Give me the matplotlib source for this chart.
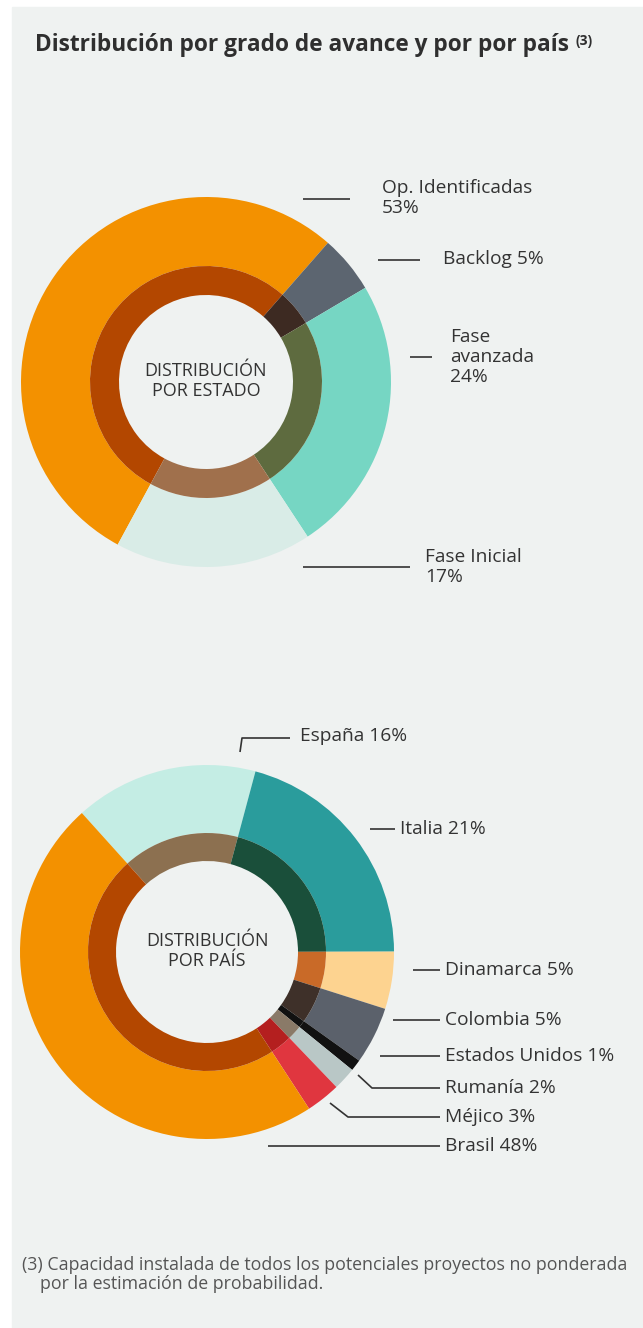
import numpy as np
import matplotlib.pyplot as plt
from matplotlib.patches import Rectangle

W, H = 643, 1328

# distribución por estado
estado = ["Op. Identificadas", "Backlog", "Fase avanzada", "Fase Inicial"]
estado_pct = [53, 5, 24, 17]
estado_col = ["#f39100", "#5c6570", "#76d6c3", "#d9ece7"]
estado_dark = ["#b34700", "#3d2a22", "#5e6b3f", "#a0704c"]

# distribución por país
pais = ["España", "Italia", "Dinamarca", "Colombia", "Estados Unidos",
        "Rumanía", "Méjico", "Brasil"]
pais_pct = [16, 21, 5, 5, 1, 2, 3, 48]
pais_col = ["#c4ede4", "#2a9c9c", "#fdd390", "#5b616b", "#111111",
            "#b9c7c6", "#e0363f", "#f39100"]
pais_dark = ["#8c7050", "#1a4f3a", "#c96a28", "#3e3029", "#111111",
             "#8a7a68", "#b41f1f", "#b34700"]

plt.rcParams['font.family'] = ['Open Sans', 'DejaVu Sans']
TXT = "#333333"
LBL = 13.8

fig = plt.figure(figsize=(W / 100, H / 100), dpi=100)
fig.patch.set_facecolor("white")
ax = fig.add_axes([0, 0, 1, 1])
ax.add_patch(Rectangle((12, 0), W - 12, H - 7, color="#eff2f1", zorder=0))


def donut(vals, outer, inner, cx, cy, R, r1, r0, start):
    c = (cx, H - cy)
    ax.pie(vals, colors=outer, radius=R, center=c, startangle=start,
           counterclock=False, wedgeprops=dict(width=R - r1, linewidth=0))
    ax.pie(vals, colors=inner, radius=r1, center=c, startangle=start,
           counterclock=False, wedgeprops=dict(width=r1 - r0, linewidth=0))


def leader(xs, ys):
    ax.plot(xs, [H - y for y in ys], color=TXT, lw=1.2, solid_capstyle="butt")


def label(x, y, s, **kw):
    ax.text(x, H - y, s, ha="left", va="center", fontsize=LBL, color=TXT,
            linespacing=1.15, **kw)


# top donut
donut(estado_pct, estado_col, estado_dark, 206, 382, 185, 116, 87, 241.5)
ax.text(206, H - 381, "DISTRIBUCIÓN\nPOR ESTADO", ha="center", va="center",
        fontsize=13, color=TXT, linespacing=1.2)

leader([303, 350], [199, 199])
label(382, 198, f"{estado[0]}\n{estado_pct[0]}%")
leader([378, 420], [260, 260])
label(443, 259, f"{estado[1]} {estado_pct[1]}%")
leader([410, 432], [357, 357])
label(450, 357, "Fase\navanzada\n%d%%" % estado_pct[2])
leader([303, 410], [567, 567])
label(425, 567, f"{estado[3]}\n{estado_pct[3]}%")

# bottom donut
donut(pais_pct, pais_col, pais_dark, 207, 952, 187, 119, 91, 132)
ax.text(207, H - 951, "DISTRIBUCIÓN\nPOR PAÍS", ha="center", va="center",
        fontsize=13, color=TXT, linespacing=1.2)

leader([240, 242, 290], [752, 738, 738])
label(300, 736, f"{pais[0]} {pais_pct[0]}%")
leader([370, 395], [829, 829])
label(400, 829, f"{pais[1]} {pais_pct[1]}%")

right_y = [970, 1020, 1056, 1088, 1117, 1146]
leader([413, 440], [970, 970])
leader([393, 440], [1020, 1020])
leader([380, 440], [1056, 1056])
leader([358, 372, 440], [1075, 1088, 1088])
leader([330, 348, 440], [1103, 1117, 1117])
leader([268, 440], [1146, 1146])
for name, v, y in zip(pais[2:], pais_pct[2:], right_y):
    label(445, y, f"{name} {v}%")

ax.set_xlim(0, W)
ax.set_ylim(0, H)
ax.set_aspect("equal")
ax.axis("off")

# title with superscript note mark
title = ax.text(35, H - 45, "Distribución por grado de avance y por por país",
                ha="left", va="center", fontsize=16.3, fontweight="bold",
                color="#2f2f2f")
fig.canvas.draw()
bb = title.get_window_extent()
x_end = ax.transData.inverted().transform((bb.x1, bb.y1))[0]
ax.text(x_end + 6, H - 41, "(3)", ha="left", va="center", fontsize=10,
        fontweight="bold", color="#2f2f2f")

# footnote
ax.text(22, H - 1265, "(3) Capacidad instalada de todos los potenciales proyectos no ponderada",
        ha="left", va="center", fontsize=12.8, color="#555555")
ax.text(40, H - 1284, "por la estimación de probabilidad.",
        ha="left", va="center", fontsize=12.8, color="#555555")

fig.savefig("out.png", dpi=100, facecolor=fig.get_facecolor())
